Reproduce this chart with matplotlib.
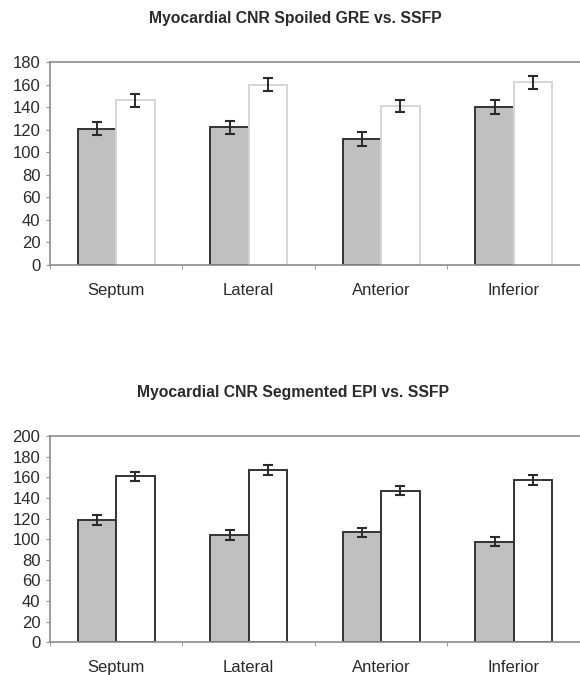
import matplotlib
matplotlib.use("Agg")
import matplotlib.pyplot as plt
import numpy as np

plt.rcParams["font.family"] = ["Liberation Sans", "DejaVu Sans"]

CATEGORIES = ["Septum", "Lateral", "Anterior", "Inferior"]

# top panel: spoiled GRE vs SSFP
GRE_MEAN = [121, 122, 112, 140]
GRE_ERR = [6, 6, 6, 6]
SSFP_TOP_MEAN = [146, 160, 141, 162]
SSFP_TOP_ERR = [5.5, 5.5, 5.5, 5.5]

# bottom panel: segmented EPI vs SSFP
EPI_MEAN = [118.5, 104, 106.5, 97.5]
EPI_ERR = [4.5, 4.5, 4.5, 4.5]
SSFP_BOT_MEAN = [161, 167, 147, 157.5]
SSFP_BOT_ERR = [4.5, 4.5, 4.5, 4.5]

TITLES = [
    "Myocardial CNR Spoiled GRE vs. SSFP",
    "Myocardial CNR Segmented EPI vs. SSFP",
]
YMAX = [180, 200]

GRAY = "#c0c0c0"
EDGE = "#333333"
AXIS = "#8c8c8c"
TEXT = "#2a2a2a"
BAR_W = 0.29


def draw_panel(ax, left_vals, left_err, right_vals, right_err, ymax, white_edge):
    x = np.arange(len(CATEGORIES))
    ax.bar(x - BAR_W / 2, left_vals, BAR_W, color=GRAY, edgecolor=EDGE, linewidth=1.4, zorder=2)
    ax.bar(x + BAR_W / 2, right_vals, BAR_W, color="white", edgecolor=white_edge, linewidth=1.4, zorder=2)
    err_kw = dict(fmt="none", ecolor=TEXT, elinewidth=1.4, capsize=3.4, capthick=1.5, zorder=3)
    ax.errorbar(x - BAR_W / 2, left_vals, yerr=left_err, **err_kw)
    ax.errorbar(x + BAR_W / 2, right_vals, yerr=right_err, **err_kw)

    ax.set_xlim(-0.5, len(CATEGORIES) - 0.5)
    ax.set_ylim(0, ymax)
    ax.set_yticks(np.arange(0, ymax + 1, 20))
    ax.set_xticks(x)
    ax.set_xticklabels(CATEGORIES)
    ax.set_xticks(np.arange(-0.5, len(CATEGORIES)), minor=True)
    ax.tick_params(axis="x", which="major", length=0, pad=13, labelsize=12, labelcolor=TEXT)
    ax.tick_params(axis="x", which="minor", length=3, color=AXIS, direction="out")
    ax.tick_params(axis="y", length=3, color=AXIS, pad=4, labelsize=12, labelcolor=TEXT)
    for side in ["left", "bottom", "top"]:
        ax.spines[side].set_color(AXIS)
        ax.spines[side].set_linewidth(1.2)
    ax.spines["right"].set_visible(False)


fig = plt.figure(figsize=(5.8, 6.75), dpi=100)
ax_top = fig.add_axes([0.0862, 0.6074, 0.9138, 0.3006])
ax_bot = fig.add_axes([0.0862, 0.0484, 0.9138, 0.3056])

draw_panel(ax_top, GRE_MEAN, GRE_ERR, SSFP_TOP_MEAN, SSFP_TOP_ERR, YMAX[0], "#d6d6d6")
draw_panel(ax_bot, EPI_MEAN, EPI_ERR, SSFP_BOT_MEAN, SSFP_BOT_ERR, YMAX[1], EDGE)

fig.text(0.509, 1 - 18 / 675, TITLES[0], ha="center", va="center",
         fontsize=11.3, fontweight="bold", color=TEXT)
fig.text(0.505, 1 - 393 / 675, TITLES[1], ha="center", va="center",
         fontsize=11.3, fontweight="bold", color=TEXT)

fig.savefig("out.png", dpi=100, facecolor="white")
